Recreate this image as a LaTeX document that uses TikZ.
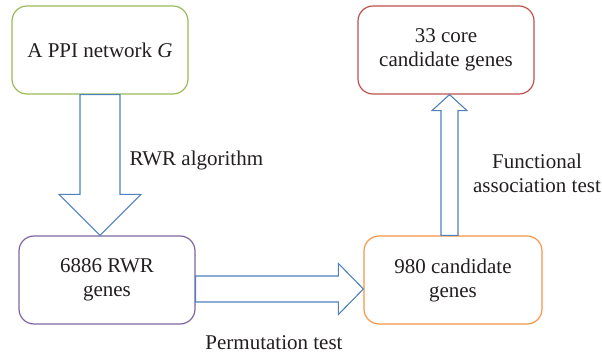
\documentclass[tikz,border=0pt]{standalone}
\usepackage{fontspec}
\setmainfont{Liberation Serif}
\newfontfamily\labelserif{Liberation Serif}
\usetikzlibrary{calc}
\definecolor{txt}{HTML}{231F20}
\definecolor{boxgreen}{HTML}{9BBB59}
\definecolor{boxpurple}{HTML}{8064A2}
\definecolor{boxred}{HTML}{C0504D}
\definecolor{boxorange}{HTML}{F79646}
\definecolor{arrblue}{HTML}{4F81BD}
\begin{document}
\begin{tikzpicture}[x=1pt,y=1pt,
  stagebox/.style={draw, line width=1.2pt, rounded corners=15pt, fill=white,
    minimum height=88pt, align=center, text=txt,
    font=\labelserif\fontsize{21}{24}\selectfont},
  blockarrow/.style={draw=arrblue, line width=1.1pt, fill=white, line join=miter},
  steplabel/.style={text=txt, align=center,
    font=\labelserif\fontsize{21}{24}\selectfont}]
\useasboundingbox (0,0) rectangle (602,358);

% stages of the pipeline
\node[stagebox, draw=boxgreen, minimum width=176pt] (ppi) at (100,308)
  {A PPI network \textit{G}};
\node[stagebox, draw=boxpurple, minimum width=176pt] (rwr) at (107,78)
  {6886 RWR\\genes};
\node[stagebox, draw=boxorange, minimum width=178pt] (cand) at (453,78)
  {980 candidate\\genes};
\node[stagebox, draw=boxred, minimum width=176pt] (core) at (446,308)
  {33 core\\candidate genes};

% block arrow: network -> RWR genes
\draw[blockarrow] let \p1=(ppi.south), \p2=(rwr.north) in
  (\x1-20pt,\y1) -- (\x1-20pt,\y2+41pt) -- (\x1-41pt,\y2+41pt) -- (\x1,\y2)
  -- (\x1+41pt,\y2+41pt) -- (\x1+20pt,\y2+41pt) -- (\x1+20pt,\y1) -- cycle;

% block arrow: RWR genes -> candidate genes
\draw[blockarrow] let \p1=($(rwr.east)+(0,-9)$), \p2=(cand.west) in
  (\x1,\y1+13pt) -- (\x2-25pt,\y1+13pt) -- (\x2-25pt,\y1+25.5pt) -- (\x2,\y1)
  -- (\x2-25pt,\y1-25.5pt) -- (\x2-25pt,\y1-13pt) -- (\x1,\y1-13pt) -- cycle;

% block arrow: candidate genes -> core genes
\draw[blockarrow] let \p1=($(cand.north)+(-3.5,0)$), \p2=(core.south) in
  (\x1-8.5pt,\y1) -- (\x1-8.5pt,\y2-16pt) -- (\x1-17.5pt,\y2-16pt) -- (\x1,\y2)
  -- (\x1+17.5pt,\y2-16pt) -- (\x1+8.5pt,\y2-16pt) -- (\x1+8.5pt,\y1) -- cycle;

% step labels
\node[steplabel, anchor=west] (lrwr) at (126,198) {RWR algorithm};
\node[steplabel] (lperm) at (274,15) {Permutation test};
\node[steplabel] (lfunc) at (537,185) {Functional\\association test};
\end{tikzpicture}
\end{document}
